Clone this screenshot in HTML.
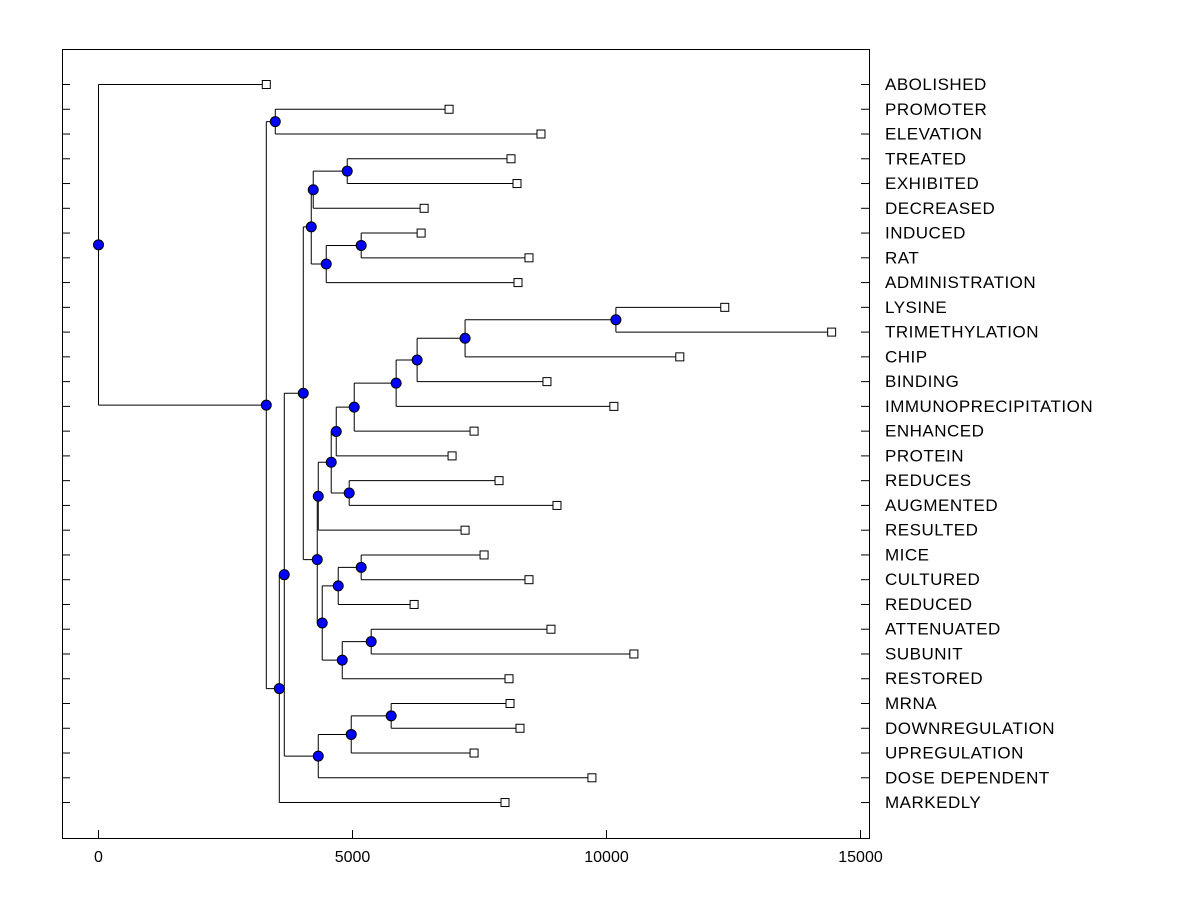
<!DOCTYPE html>
<html><head><meta charset="utf-8"><style>
html,body{margin:0;padding:0;background:#fff;}
svg{display:block;font-family:"Liberation Sans",Arial,sans-serif;}
</style></head><body>
<svg id="chart" width="1200" height="900">
<rect x="62.5" y="49.5" width="807" height="789" fill="none" stroke="#000" stroke-width="1"/>
<g id="ticks"></g>
<g id="links"></g>
<g id="marks"></g>
<g id="labels"></g>
</svg>
<script>
const leafNames=["ABOLISHED","PROMOTER","ELEVATION","TREATED","EXHIBITED","DECREASED","INDUCED","RAT","ADMINISTRATION","LYSINE","TRIMETHYLATION","CHIP","BINDING","IMMUNOPRECIPITATION","ENHANCED","PROTEIN","REDUCES","AUGMENTED","RESULTED","MICE","CULTURED","REDUCED","ATTENUATED","SUBUNIT","RESTORED","MRNA","DOWNREGULATION","UPREGULATION","DOSE DEPENDENT","MARKEDLY"];
const leafHeights=[3303,6901,8710,8120,8238,6410,6351,8474,8258,12328,14432,11443,8828,10145,7393,6960,7885,9025,7216,7590,8474,6213,8907,10539,8081,8101,8297,7393,9713,8002];
const mergeLeft=[1,3,31,6,33,32,9,36,37,38,39,40,16,41,43,19,45,22,47,46,44,35,25,52,53,51,55,30,0];
const mergeRight=[2,4,5,7,8,34,10,11,12,13,14,15,17,42,18,20,21,23,24,48,49,50,26,27,28,54,29,56,57];
const mergeHeights=[3480,4896,4227,5171,4483,4188,10185,7216,6272,5859,5034,4680,4935,4581,4326,5171,4719,5368,4798,4404,4306,4031,5761,4975,4326,3657,3559,3303,0];
const xTicks=[0,5000,10000,15000];

const NS="http://www.w3.org/2000/svg";
const x0=98,kx=0.0508,yTop=84,yStep=24.76;
const xs=v=>x0+v*kx;
const yl=i=>yTop+i*yStep;
function mk(tag,attrs,parent){const e=document.createElementNS(NS,tag);for(const k in attrs)e.setAttribute(k,attrs[k]);document.getElementById(parent).appendChild(e);return e;}

const n=leafNames.length;
const X=[],Y=[];
for(let i=0;i<n;i++){X[i]=xs(leafHeights[i]);Y[i]=yl(i);}
for(let m=0;m<mergeHeights.length;m++){const id=n+m,a=mergeLeft[m],b=mergeRight[m];X[id]=xs(mergeHeights[m]);Y[id]=(Y[a]+Y[b])/2;}
for(let m=0;m<mergeHeights.length;m++){
  const id=n+m,a=mergeLeft[m],b=mergeRight[m],px=X[id];
  const d=`M${px+0.5},${Y[a]+0.5}V${Y[b]+0.5}M${px+0.5},${Y[a]+0.5}H${X[a]}M${px+0.5},${Y[b]+0.5}H${X[b]}`;
  const p=mk('path',{d:d,fill:'none',stroke:'#000','stroke-width':1},'links');
  
  
}
for(let i=0;i<n;i++){
  const r=mk('rect',{x:X[i]-4+0.5,y:Y[i]-4+0.5,width:8,height:8,fill:'#fff',stroke:'#000','stroke-width':1},'marks');
  
  
  const t=mk('text',{x:885,y:Y[i]+6,'font-size':17,'letter-spacing':0.5,fill:'#000'},'labels');
  t.textContent=leafNames[i];
  
  
  const l1=mk('line',{x1:62,x2:70,y1:Y[i]+0.5,y2:Y[i]+0.5,stroke:'#000'},'ticks');
  
  
  const l2=mk('line',{x1:861,x2:869,y1:Y[i]+0.5,y2:Y[i]+0.5,stroke:'#000'},'ticks');
  
  
}
for(let m=0;m<mergeHeights.length;m++){
  const id=n+m;
  const c=mk('circle',{cx:X[id]+0.5,cy:Y[id]+0.5,r:5,fill:'#0000ff',stroke:'#000','stroke-width':1},'marks');
  
  
}
for(const v of xTicks){
  const px=Math.round(xs(v))+0.5;
  const l=mk('line',{x1:px,x2:px,y1:830,y2:838,stroke:'#000'},'ticks');
  
  
  const t=mk('text',{x:px,y:862,'font-size':16,'text-anchor':'middle',fill:'#000'},'labels');
  t.textContent=v;
  
  
}
</script>
</body></html>
